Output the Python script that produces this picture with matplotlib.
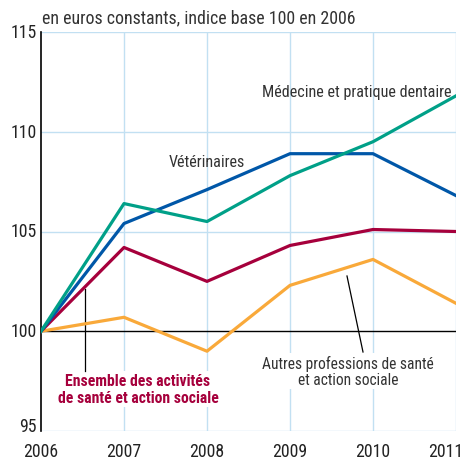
import matplotlib
matplotlib.use("Agg")
import matplotlib.pyplot as plt
from matplotlib import font_manager
from matplotlib.transforms import ScaledTranslation

years = [2006, 2007, 2008, 2009, 2010, 2011]
medecine = [100, 106.4, 105.5, 107.8, 109.5, 111.8]
veterinaires = [100, 105.4, 107.1, 108.9, 108.9, 106.8]
ensemble = [100, 104.2, 102.5, 104.3, 105.1, 105.0]
autres = [100, 100.7, 99.0, 102.3, 103.6, 101.4]
y_ticks = [95, 100, 105, 110, 115]

# a condensed face would be closest to the original, fall back on smaller sizes
names = {f.name for f in font_manager.fontManager.ttflist}
narrow = [n for n in ["Liberation Sans Narrow", "Roboto Condensed", "Open Sans Condensed",
                      "Noto Sans Condensed", "DejaVu Sans Condensed"] if n in names]
if narrow:
    plt.rcParams["font.family"] = [narrow[0], "DejaVu Sans"]
    k = 1.0
else:
    plt.rcParams["font.family"] = ["Liberation Sans", "DejaVu Sans"]
    k = 0.82

TEXT = "#333333"
GRID = "#c2e0f2"

fig = plt.figure(figsize=(4.67, 4.60), dpi=100)
ax = fig.add_axes([41 / 467, 28 / 460, 415 / 467, 399 / 460])

ax.set_xlim(2006, 2011)
ax.set_ylim(95, 115)

for x in years[1:]:
    ax.axvline(x, color=GRID, lw=1.0, zorder=0)
for y in [95, 105, 110, 115]:
    ax.axhline(y, color=GRID, lw=1.0, zorder=0)
ax.axhline(100, color="black", lw=1.0, zorder=1)

ax.plot(years, autres, color="#f9a93a", lw=2.3, zorder=3)
ax.plot(years, ensemble, color="#a6003c", lw=2.3, zorder=3)
ax.plot(years, veterinaires, color="#0057a8", lw=2.3, zorder=3)
ax.plot(years, medecine, color="#00a088", lw=2.3, zorder=3)

for s in ["top", "right", "bottom"]:
    ax.spines[s].set_visible(False)
ax.spines["left"].set_linewidth(1.2)
ax.set_xticks(years)
ax.set_yticks(y_ticks)
ax.tick_params(axis="both", length=0, labelsize=12.8 * k, labelcolor="#222222")
ax.tick_params(axis="y", pad=3)
ax.tick_params(axis="x", pad=8)
for lab in ax.get_yticklabels():
    lab.set_verticalalignment("center")
first_y = ax.get_yticklabels()[0]
first_y.set_transform(first_y.get_transform() + ScaledTranslation(0, 5 / 100, fig.dpi_scale_trans))
last = ax.get_xticklabels()[-1]
last.set_horizontalalignment("right")
last.set_transform(last.get_transform() + ScaledTranslation(7 / 100, 0, fig.dpi_scale_trans))

fig.text(42 / 467, 1 - 18 / 460, "en euros constants, indice base 100 en 2006",
         fontsize=12.9 * k, color=TEXT, va="center", ha="left")


def px(xp, yp):
    return 2006 + (xp - 41) / 83, 115 - (yp - 33) / 19.95


bbox = dict(facecolor="white", edgecolor="none", pad=1.5)
ax.text(*px(207, 163), "Vétérinaires",
        fontsize=11.6 * k, color=TEXT, ha="center", va="center", zorder=2)
ax.text(*px(357, 93), "Médecine et pratique dentaire",
        fontsize=11.6 * k, color=TEXT, ha="center", va="center", zorder=2)
ax.text(*px(138, 390), "Ensemble des activités\nde santé et action sociale",
        fontsize=11.3 * k, fontweight="bold", color="#a6003c", ha="center", va="center",
        linespacing=1.2, bbox=bbox, zorder=2)
ax.text(*px(348, 372), "Autres professions de santé\net action sociale",
        fontsize=11.2 * k, color=TEXT, ha="center", va="center",
        linespacing=1.1, bbox=bbox, zorder=2)

# leader lines
x0, y0 = px(85, 290)
x1, y1 = px(85, 372)
ax.plot([x0, x1], [y0, y1], color="black", lw=0.9, zorder=2)
x0, y0 = px(347, 277)
x1, y1 = px(363, 353)
ax.plot([x0, x1], [y0, y1], color="black", lw=0.9, zorder=2)

fig.savefig("out.png", dpi=100)
